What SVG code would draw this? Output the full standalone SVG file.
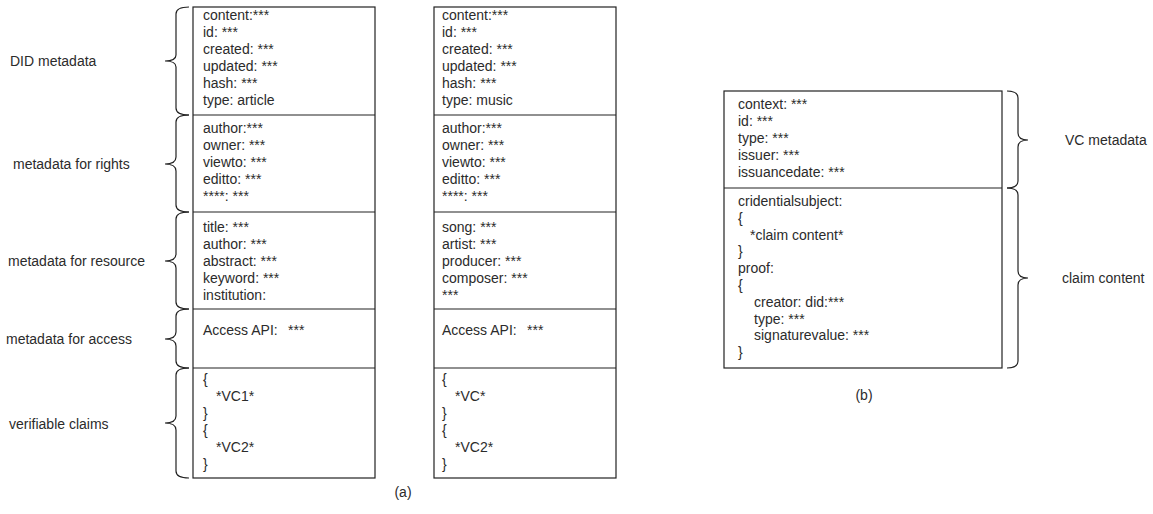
<svg xmlns="http://www.w3.org/2000/svg" width="1153" height="514" viewBox="0 0 1153 514">
<style>
text{font-family:"Liberation Sans",Arial,Helvetica,sans-serif;font-size:14px;fill:#2b2b2b}
.box{fill:#fff;stroke:#222;stroke-width:1.2}
.div{stroke:#222;stroke-width:1.2;fill:none}
.brace{fill:none;stroke:#222;stroke-width:1.2}
.mid{text-anchor:middle}
</style>
<rect width="1153" height="514" fill="#fff"/>
<g id="connectors">
<path class="brace" d="M189 7 Q176 7 176 14 L176 55 Q176 61 165 61 Q176 61 176 67 L176 108 Q176 115 189 115"/>
<path class="brace" d="M189 115 Q176 115 176 122 L176 157 Q176 164 165 164 Q176 164 176 171 L176 205 Q176 212 189 212"/>
<path class="brace" d="M189 212 Q176 212 176 219 L176 254 Q176 261 165 261 Q176 261 176 268 L176 302 Q176 309 189 309"/>
<path class="brace" d="M189 309 Q176 309 176 316 L176 332 Q176 339 165 339 Q176 339 176 346 L176 361 Q176 368 189 368"/>
<path class="brace" d="M189 368 Q176 368 176 375 L176 416 Q176 423 165 423 Q176 423 176 430 L176 471 Q176 478 189 478"/>
<path class="brace" d="M1007 91 Q1018 91 1018 98 L1018 133 Q1018 140 1028 140 Q1018 140 1018 147 L1018 181 Q1018 188 1007 188"/>
<path class="brace" d="M1007 188 Q1018 188 1018 195 L1018 271 Q1018 278 1028 278 Q1018 278 1018 285 L1018 361 Q1018 368 1007 368"/>
</g>
<g id="labels-a">
<text x="10" y="66">DID metadata</text>
<text x="13" y="169">metadata for rights</text>
<text x="8" y="266">metadata for resource</text>
<text x="6" y="344">metadata for access</text>
<text x="9" y="429">verifiable claims</text>
</g>
<g id="table-article">
<rect class="box" x="193" y="7" width="182" height="471"/>
<path class="div" d="M193 115H375M193 212H375M193 309H375M193 368H375"/>
<text x="203" y="20">content:***</text>
<text x="203" y="37">id: ***</text>
<text x="203" y="54">created: ***</text>
<text x="203" y="71">updated: ***</text>
<text x="203" y="88">hash: ***</text>
<text x="203" y="105">type: article</text>
<text x="203" y="133">author:***</text>
<text x="203" y="150">owner: ***</text>
<text x="203" y="167">viewto: ***</text>
<text x="203" y="184">editto: ***</text>
<text x="203" y="201">****: ***</text>
<text x="203" y="232">title: ***</text>
<text x="203" y="249">author: ***</text>
<text x="203" y="266">abstract: ***</text>
<text x="203" y="283">keyword: ***</text>
<text x="203" y="300">institution:</text>
<text x="203" y="335">Access API: <tspan x="288">***</tspan></text>
<text x="203" y="384">{</text>
<text x="216" y="401">*VC1*</text>
<text x="203" y="418">}</text>
<text x="203" y="435">{</text>
<text x="216" y="452">*VC2*</text>
<text x="203" y="469">}</text>
</g>
<g id="table-music">
<rect class="box" x="434" y="7" width="182" height="471"/>
<path class="div" d="M434 115H616M434 212H616M434 309H616M434 368H616"/>
<text x="442" y="20">content:***</text>
<text x="442" y="37">id: ***</text>
<text x="442" y="54">created: ***</text>
<text x="442" y="71">updated: ***</text>
<text x="442" y="88">hash: ***</text>
<text x="442" y="105">type: music</text>
<text x="442" y="133">author:***</text>
<text x="442" y="150">owner: ***</text>
<text x="442" y="167">viewto: ***</text>
<text x="442" y="184">editto: ***</text>
<text x="442" y="201">****: ***</text>
<text x="442" y="232">song: ***</text>
<text x="442" y="249">artist: ***</text>
<text x="442" y="266">producer: ***</text>
<text x="442" y="283">composer: ***</text>
<text x="442" y="300">***</text>
<text x="442" y="335">Access API: <tspan x="527">***</tspan></text>
<text x="442" y="384">{</text>
<text x="455" y="401">*VC*</text>
<text x="442" y="418">}</text>
<text x="442" y="435">{</text>
<text x="455" y="452">*VC2*</text>
<text x="442" y="469">}</text>
</g>
<g id="table-vc">
<rect class="box" x="724" y="91" width="278" height="277"/>
<path class="div" d="M724 188H1002"/>
<text x="738" y="109">context: ***</text>
<text x="738" y="126">id: ***</text>
<text x="738" y="143">type: ***</text>
<text x="738" y="160">issuer: ***</text>
<text x="738" y="177">issuancedate: ***</text>
<text x="738" y="206">cridentialsubject:</text>
<text x="738" y="222.8">{</text>
<text x="750" y="239.6">*claim content*</text>
<text x="738" y="256.4">}</text>
<text x="738" y="273.2">proof:</text>
<text x="738" y="290">{</text>
<text x="754" y="306.8">creator: did:***</text>
<text x="754" y="323.6">type: ***</text>
<text x="754" y="340.4">signaturevalue: ***</text>
<text x="738" y="357.2">}</text>
</g>
<g id="labels-b">
<text x="1065" y="145">VC metadata</text>
<text x="1062" y="283">claim content</text>
</g>
<g id="captions">
<text class="mid" x="403" y="497">(a)</text>
<text class="mid" x="864" y="400">(b)</text>
</g>
</svg>
